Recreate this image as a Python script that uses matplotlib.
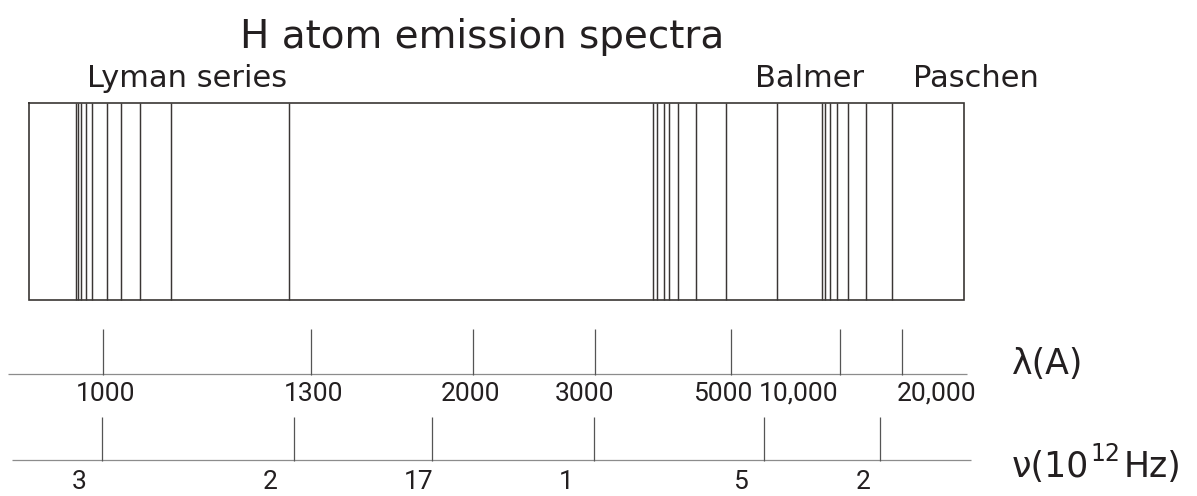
import matplotlib.pyplot as plt


OUT_FILE = "out.png"

# положения линий спектра (в пикселях схемы)
lyman_lines = [76, 78.3, 80.5, 86, 92, 107, 121, 139.7, 171, 288.5]
balmer_lines = [653.3, 657.3, 664, 669.3, 678.3, 696.3, 726, 776.7]
paschen_lines = [822, 824.5, 830, 837.3, 848.2, 866, 892]

# шкала длин волн
wl_labels = ["1000", "1300", "2000", "3000", "5000", "10,000", "20,000"]
wl_ticks = [103.3, 311, 473.3, 595.3, 730.7, 840, 901.7]
wl_text_x = [106, 314, 471, 585, 723, 799, 937]

# шкала частот
nu_labels = ["3", "2", "17", "1", "5", "2"]
nu_ticks = [102.3, 293.7, 432.3, 594.3, 764.3, 880]
nu_text_x = [79, 270, 419, 566, 740, 863]

INK = "#231f20"
LINE = "#3a3634"
AXIS = "#8c8c8c"


def draw_spectrum(ax):
    top, bottom = 102.7, 300
    left, right = 29.3, 964
    ax.plot([left, right, right, left, left], [top, top, bottom, bottom, top],
            color=LINE, lw=1.2, solid_joinstyle="miter")
    for group in (lyman_lines, balmer_lines, paschen_lines):
        ax.vlines(group, top, bottom, color=LINE, lw=1.05)


def draw_scale(ax, ticks, labels, text_x, y_axis, x0, x1, y_tick, y_text):
    ax.hlines(y_axis, x0, x1, color=AXIS, lw=0.9)
    ax.vlines(ticks, y_tick, y_axis + 1, color="#555555", lw=0.9)
    for x, lab in zip(text_x, labels):
        ax.text(x, y_text, lab, ha="center", va="center", fontsize=19,
                family=["Roboto", "DejaVu Sans"], color=INK)


def main():
    plt.rcParams["font.family"] = ["DejaVu Sans"]
    fig = plt.figure(figsize=(11.97, 4.96), dpi=100)
    ax = fig.add_axes([0, 0, 1, 1])
    ax.set_xlim(0, 1197)
    ax.set_ylim(496, 0)
    ax.axis("off")

    ax.text(482, 48, "H atom emission spectra", ha="center", va="baseline",
            fontsize=28, color=INK)
    ax.text(87, 87, "Lyman series", ha="left", va="baseline", fontsize=22, color=INK)
    ax.text(755, 87, "Balmer", ha="left", va="baseline", fontsize=22, color=INK)
    ax.text(913, 87, "Paschen", ha="left", va="baseline", fontsize=22, color=INK)

    draw_spectrum(ax)

    draw_scale(ax, wl_ticks, wl_labels, wl_text_x, 374.3, 8, 967, 329, 394)
    draw_scale(ax, nu_ticks, nu_labels, nu_text_x, 460.3, 12, 971, 417, 482)

    ax.text(1012, 374, "λ(A)", ha="left", va="baseline", fontsize=25, color=INK)
    # ν(10^12 Hz) — по кусочкам, верхний индекс крупный, как в оригинале
    ax.text(1012, 477, "ν(10", ha="left", va="baseline", fontsize=25, color=INK)
    ax.text(1090, 461, "12", ha="left", va="baseline", fontsize=17, color=INK)
    ax.text(1124, 477, "Hz)", ha="left", va="baseline", fontsize=25, color=INK)

    fig.savefig(OUT_FILE, dpi=100)
    plt.close(fig)


if __name__ == "__main__":
    main()
